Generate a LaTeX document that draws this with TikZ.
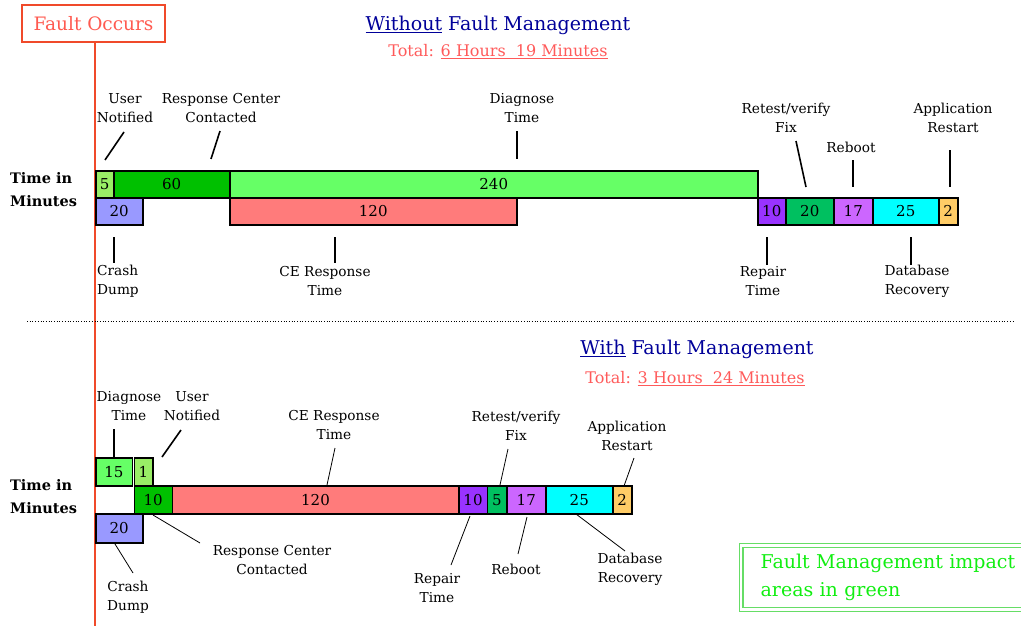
\documentclass[tikz,border=0pt]{standalone}
\usepackage{fontspec}
\setmainfont{DejaVu Serif}
\definecolor{faultred}{HTML}{F04A2A}
\definecolor{faulttext}{HTML}{FF5A50}
\definecolor{titleblue}{HTML}{000099}
\definecolor{totalred}{HTML}{FF5A5A}
\definecolor{legendgreen}{HTML}{66DD66}
\definecolor{legendtext}{HTML}{11EE11}
\definecolor{cUser}{HTML}{99EE66}
\definecolor{cResp}{HTML}{00C000}
\definecolor{cDiag}{HTML}{66FF66}
\definecolor{cCrash}{HTML}{9999FF}
\definecolor{cCE}{HTML}{FF7B7B}
\definecolor{cRepair}{HTML}{9933FF}
\definecolor{cRetest}{HTML}{00C060}
\definecolor{cReboot}{HTML}{CC66FF}
\definecolor{cDB}{HTML}{00FFFF}
\definecolor{cApp}{HTML}{FFCC66}
\begin{document}
\begin{tikzpicture}[
  x=1pt, y=-1pt,
  bar/.style={draw, line width=1.5pt, anchor=north west, inner sep=0pt, minimum height=27pt, font=\fontsize{15}{15}\selectfont},
  lbl/.style={align=center, inner sep=0pt, font=\fontsize{13.7}{19}\selectfont},
  axis/.style={align=left, anchor=west, inner sep=0pt, font=\bfseries\fontsize{14.5}{23}\selectfont},
  title/.style={text=titleblue, inner sep=0pt, font=\fontsize{19}{19}\selectfont},
  total/.style={text=totalred, inner sep=0pt, font=\fontsize{16}{16}\selectfont},
  lead/.style={line width=1.6pt},
  thinlead/.style={line width=0.8pt}
]
\useasboundingbox (0,0) rectangle (1021,626);

% fault marker
\node[draw=faultred, line width=1.8pt, text=faulttext, minimum width=143pt, minimum height=37pt,
  inner sep=0pt, font=\fontsize{18.5}{18.5}\selectfont] (fault) at (93.5,23.5) {Fault Occurs};
\coordinate (faultend) at (95,626);
\draw[faultred, line width=2pt] (fault.south -| faultend) -- (faultend);

% without fault management
\node[title] (title1) at (498,25) {\underline{Without} Fault Management};
\node[total] (total1) at (498,52) {Total: \underline{6 Hours\ \ 19 Minutes}};
\node[axis] (axis1) at (10,189.5) {Time in\\Minutes};

\node[bar, fill=cUser, minimum width=18pt] (un1) at (95,170) {5};
\node[bar, fill=cResp, minimum width=116pt] (rc1) at (113,170) {60};
\node[bar, fill=cDiag, minimum width=528pt] (dg1) at (229,170) {240};
\node[bar, fill=cCrash, minimum width=47pt] (cd1) at (95,197) {20};
\node[bar, fill=cCE, minimum width=287pt] (ce1) at (229,197) {120};
\node[bar, fill=cRepair, minimum width=28pt] (rp1) at (757,197) {10};
\node[bar, fill=cRetest, minimum width=48pt] (rt1) at (785,197) {20};
\node[bar, fill=cReboot, minimum width=39pt] (rb1) at (833,197) {17};
\node[bar, fill=cDB, minimum width=66pt] (db1) at (872,197) {25};
\node[bar, fill=cApp, minimum width=19pt] (ar1) at (938,197) {2};

\node[lbl] (lun1) at (125,108) {User\\Notified};
\node[lbl] (lrc1) at (221,108) {Response Center\\Contacted};
\node[lbl] (ldg1) at (522,108) {Diagnose\\Time};
\node[lbl] (lrt1) at (786,118) {Retest/verify\\Fix};
\node[lbl] (lrb1) at (851,147) {Reboot};
\node[lbl] (lar1) at (953,118) {Application\\Restart};
\node[lbl, align=left, anchor=west] (lcd1) at (97,281) {Crash\\Dump};
\node[lbl] (lce1) at (325,281) {CE Response\\Time};
\node[lbl] (lrp1) at (763,281) {Repair\\Time};
\node[lbl] (ldb1) at (917,281) {Database\\Recovery};

\coordinate (un1a) at (124,132); \coordinate (un1b) at (105,160);
\coordinate (rc1a) at (220,131); \coordinate (rc1b) at (211,159);
\coordinate (dg1a) at (517,131); \coordinate (dg1b) at (517,159);
\coordinate (rt1a) at (796,141); \coordinate (rt1b) at (806,187);
\coordinate (rb1a) at (853,160); \coordinate (rb1b) at (853,187);
\coordinate (ar1a) at (950,150); \coordinate (ar1b) at (950,187);
\coordinate (cd1a) at (114,237); \coordinate (cd1b) at (114,263);
\coordinate (ce1a) at (335,237); \coordinate (ce1b) at (335,263);
\coordinate (rp1a) at (767,237); \coordinate (rp1b) at (767,265);
\coordinate (db1a) at (911,237); \coordinate (db1b) at (911,265);
\draw[lead] (un1a) -- (un1b);
\draw[lead] (rc1a) -- (rc1b);
\draw[lead] (dg1a) -- (dg1b);
\draw[lead] (rt1a) -- (rt1b);
\draw[lead] (rb1a) -- (rb1b);
\draw[lead] (ar1a) -- (ar1b);
\draw[lead] (cd1a) -- (cd1b);
\draw[lead] (ce1a) -- (ce1b);
\draw[lead] (rp1a) -- (rp1b);
\draw[lead] (db1a) -- (db1b);

% separator
\coordinate (sepl) at (27,321); \coordinate (sepr) at (1015,321);
\draw[dotted, line width=0.7pt] (sepl) -- (sepr);

% with fault management
\node[title] (title2) at (697,349) {\underline{With} Fault Management};
\node[total] (total2) at (695,379) {Total: \underline{3 Hours\ \ 24 Minutes}};
\node[axis] (axis2) at (10,496.5) {Time in\\Minutes};

\node[bar, fill=cDiag, minimum width=36.5pt, minimum height=28pt] (dg2) at (95,457) {15};
\node[bar, fill=cUser, minimum width=18.5pt, minimum height=28pt] (un2) at (133.5,457) {1};
\node[bar, fill=cResp, minimum width=38pt, minimum height=28pt] (rc2) at (133.5,485) {10};
\node[bar, fill=cCE, minimum width=286.5pt, minimum height=28pt] (ce2) at (171.5,485) {120};
\node[bar, fill=cRepair, minimum width=28.5pt, minimum height=28pt] (rp2) at (458,485) {10};
\node[bar, fill=cRetest, minimum width=19.5pt, minimum height=28pt] (rt2) at (486.5,485) {5};
\node[bar, fill=cReboot, minimum width=39pt, minimum height=28pt] (rb2) at (506,485) {17};
\node[bar, fill=cDB, minimum width=67pt, minimum height=28pt] (db2) at (545,485) {25};
\node[bar, fill=cApp, minimum width=19pt, minimum height=28pt] (ar2) at (612,485) {2};
\node[bar, fill=cCrash, minimum width=47pt, minimum height=29pt] (cd2) at (95,513) {20};

\node[lbl] (ldg2) at (129,406) {Diagnose\\Time};
\node[lbl] (lun2) at (192,406) {User\\Notified};
\node[lbl] (lce2) at (334,425) {CE Response\\Time};
\node[lbl] (lrt2) at (516,426) {Retest/verify\\Fix};
\node[lbl] (lar2) at (627,436) {Application\\Restart};
\node[lbl] (lrp2) at (437,588) {Repair\\Time};
\node[lbl] (lrb2) at (516,569) {Reboot};
\node[lbl] (ldb2) at (630,569) {Database\\Recovery};
\node[lbl] (lrc2) at (272,560) {Response Center\\Contacted};
\node[lbl] (lcd2) at (128,597) {Crash\\Dump};

\coordinate (dg2a) at (114,429); \coordinate (dg2b) at (114,457);
\coordinate (un2a) at (181,430); \coordinate (un2b) at (162,457);
\coordinate (ce2a) at (335,448); \coordinate (ce2b) at (327,485);
\coordinate (rt2a) at (508,449); \coordinate (rt2b) at (500,485);
\coordinate (ar2a) at (634,458); \coordinate (ar2b) at (624,486);
\coordinate (rp2a) at (470,516); \coordinate (rp2b) at (451,565);
\coordinate (rb2a) at (527,517); \coordinate (rb2b) at (518,554);
\coordinate (db2a) at (576,514); \coordinate (db2b) at (625,551);
\coordinate (rc2a) at (153,515); \coordinate (rc2b) at (200,543);
\coordinate (cd2a) at (115,544); \coordinate (cd2b) at (133,573);
\draw[lead] (dg2a) -- (dg2b);
\draw[lead] (un2a) -- (un2b);
\draw[thinlead] (ce2a) -- (ce2b);
\draw[thinlead] (rt2a) -- (rt2b);
\draw[thinlead] (ar2a) -- (ar2b);
\draw[thinlead] (rp2a) -- (rp2b);
\draw[thinlead] (rb2a) -- (rb2b);
\draw[thinlead] (db2a) -- (db2b);
\draw[thinlead] (rc2a) -- (rc2b);
\draw[thinlead] (cd2a) -- (cd2b);

% legend
\node[draw=legendgreen, line width=1.2pt, double=white, double distance=2.4pt, anchor=north west,
  minimum height=64pt, text width=272pt, inner xsep=19.5pt, align=left, text=legendtext,
  font=\fontsize{19}{28}\selectfont] (legend) at (740.5,545) {Fault Management impact\\areas in green};
\end{tikzpicture}
\end{document}
